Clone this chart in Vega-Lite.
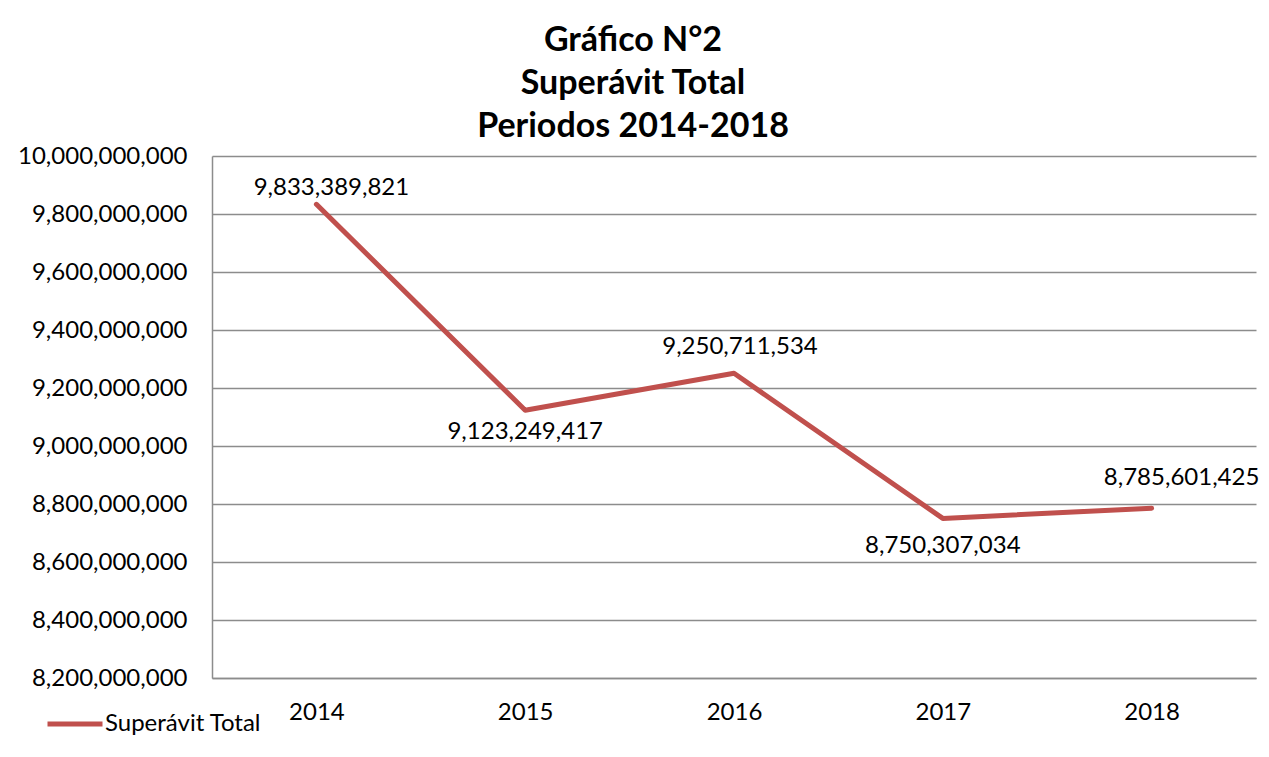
{
  "$schema": "https://vega.github.io/schema/vega-lite/v6.json",
  "width": 1044,
  "height": 522,
  "autosize": {"type": "none"},
  "padding": {"left": 212, "top": 156, "right": 13, "bottom": 79},
  "background": "white",
  "config": {
    "font": "Lato",
    "view": {"stroke": null}
  },
  "title": {
    "text": ["Gráfico N°2", "Superávit Total", "Periodos 2014-2018"],
    "fontSize": 34,
    "fontWeight": "bold",
    "font": "Lato",
    "color": "#000000",
    "lineHeight": 43,
    "anchor": "middle",
    "dx": -101,
    "offset": 0
  },
  "data": {
    "values": [
      {"anio": "2014", "valor": 9833389821, "serie": "Superávit Total"},
      {"anio": "2015", "valor": 9123249417, "serie": "Superávit Total"},
      {"anio": "2016", "valor": 9250711534, "serie": "Superávit Total"},
      {"anio": "2017", "valor": 8750307034, "serie": "Superávit Total"},
      {"anio": "2018", "valor": 8785601425, "serie": "Superávit Total"}
    ]
  },
  "encoding": {
    "x": {
      "field": "anio",
      "type": "ordinal",
      "scale": {"type": "point", "padding": 0.5},
      "axis": {
        "title": null,
        "labelAngle": 0,
        "labelFontSize": 24,
        "labelColor": "#000000",
        "labelPadding": 22,
        "ticks": false,
        "domainColor": "#8c8c8c",
        "domainWidth": 1.5,
        "grid": false
      }
    },
    "y": {
      "field": "valor",
      "type": "quantitative",
      "scale": {"domain": [8200000000, 10000000000], "nice": false, "zero": false},
      "axis": {
        "title": null,
        "values": [8200000000, 8400000000, 8600000000, 8800000000, 9000000000, 9200000000, 9400000000, 9600000000, 9800000000, 10000000000],
        "format": ",d",
        "labelFontSize": 24,
        "labelColor": "#000000",
        "labelPadding": 25,
        "ticks": false,
        "domainColor": "#8c8c8c",
        "domainWidth": 1.5,
        "grid": true,
        "gridColor": "#8c8c8c",
        "gridWidth": 1.5
      }
    }
  },
  "layer": [
    {
      "mark": {"type": "line", "strokeWidth": 5, "strokeCap": "round", "strokeJoin": "round"},
      "encoding": {
        "color": {
          "field": "serie",
          "type": "nominal",
          "scale": {"range": ["#C0504D"]},
          "legend": {
            "title": null,
            "orient": "none",
            "legendX": -167,
            "legendY": 538,
            "padding": 0,
            "symbolType": "stroke",
            "symbolSize": 3025,
            "symbolStrokeWidth": 5,
            "labelFontSize": 24,
            "labelColor": "#000000",
            "labelOffset": 0
          }
        }
      }
    },
    {
      "transform": [{"filter": "datum.anio == '2014'"}],
      "mark": {"type": "text", "fontSize": 24, "dx": 15, "dy": -16, "baseline": "middle", "color": "#000000"},
      "encoding": {"text": {"field": "valor", "type": "quantitative", "format": ",d"}}
    },
    {
      "transform": [{"filter": "datum.anio == '2015'"}],
      "mark": {"type": "text", "fontSize": 24, "dx": 0, "dy": 22, "baseline": "middle", "color": "#000000"},
      "encoding": {"text": {"field": "valor", "type": "quantitative", "format": ",d"}}
    },
    {
      "transform": [{"filter": "datum.anio == '2016'"}],
      "mark": {"type": "text", "fontSize": 24, "dx": 6, "dy": -26, "baseline": "middle", "color": "#000000"},
      "encoding": {"text": {"field": "valor", "type": "quantitative", "format": ",d"}}
    },
    {
      "transform": [{"filter": "datum.anio == '2017'"}],
      "mark": {"type": "text", "fontSize": 24, "dx": 0, "dy": 28, "baseline": "middle", "color": "#000000"},
      "encoding": {"text": {"field": "valor", "type": "quantitative", "format": ",d"}}
    },
    {
      "transform": [{"filter": "datum.anio == '2018'"}],
      "mark": {"type": "text", "fontSize": 24, "dx": 30, "dy": -30, "baseline": "middle", "color": "#000000"},
      "encoding": {"text": {"field": "valor", "type": "quantitative", "format": ",d"}}
    }
  ]
}
